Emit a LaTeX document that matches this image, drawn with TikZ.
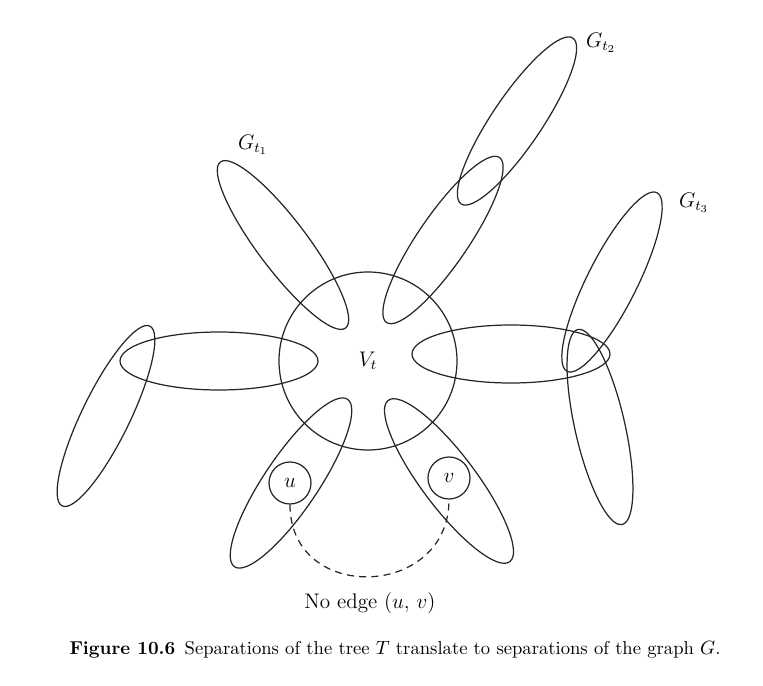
\documentclass[tikz,border=0pt]{standalone}
\usepackage{amsmath, amssymb}
\usepackage{xcolor}
\usepackage{tikz}

\begin{document}
\begin{tikzpicture}[line width=0.7pt,
		piece/.style={draw=black!85},
		vert/.style={circle, draw=black!85, minimum size=0.84cm, inner sep=0pt, font=\large},
		tag/.style={font=\large},
		noedge/.style={draw=black!85, dash pattern=on 4pt off 3pt}]
	\useasboundingbox (-7.36,-6.48) rectangle (7.90,7.22);
	\def\R{1.78}
	
	% the bag V_t
	\node[circle, draw=black!85, minimum size=2*\R cm, inner sep=0pt, tag] (Vt) at (0,0) {$V_t$};
	
	% the pieces hanging off V_t : x/y/angle/a/b
	\foreach \cx/\cy/\ang/\ra/\rb in {
		-1.70/2.32/127/2.08/0.50,
		1.50/2.42/55.6/2.00/0.50,
		2.98/4.80/56/2.00/0.50,
		4.88/1.58/63.3/2.00/0.50,
		4.64/-1.32/102.8/2.00/0.50,
		2.86/0.14/0/1.98/0.58,
		-2.98/0/0/1.98/0.58,
		-5.24/-1.10/64/2.00/0.48,
		-1.54/-2.44/56/2.02/0.54,
		1.62/-2.40/127/2.02/0.54} {
		\draw[piece, rotate around={\ang:(\cx,\cy)}] (\cx,\cy) ellipse[x radius=\ra, y radius=\rb];
	}
	
	\node[tag] (g1) at (-2.30,4.32) {$G_{t_1}$};
	\node[tag] (g2) at (4.66,6.36) {$G_{t_2}$};
	\node[tag] (g3) at (6.52,3.16) {$G_{t_3}$};
	
	\node[vert] (u) at (-1.56,-2.44) {$u$};
	\node[vert] (v) at (1.62,-2.34) {$v$};
	\draw[noedge] (u.south) to[out=-90, in=-90, looseness=1.6] (v.south);
	\node[tag] (lab) at (0.04,-4.84) {No edge $(u,\, v)$};
	
	\node[font=\fontsize{10.6}{12}\selectfont] (cap) at (0.54,-5.78) {\textbf{Figure 10.6}\enspace Separations of the tree $T$ translate to separations of the graph $G$.};
\end{tikzpicture}
\end{document}
